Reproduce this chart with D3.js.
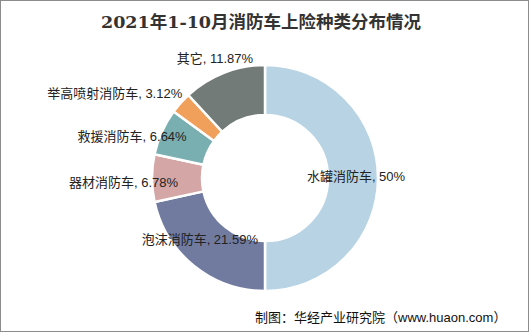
<!DOCTYPE html>
<html>
<head>
<meta charset="utf-8">
<script src="https://cdn.jsdelivr.net/npm/d3@7"></script>
<style>
  html, body { margin: 0; padding: 0; background: #fff; }
  svg { display: block; }
</style>
</head>
<body>
<svg id="chart" width="532" height="333"></svg>
<script>
// Fire-truck insurance categories, Jan–Oct 2021 (share, %)
const categories = ["水罐消防车", "泡沫消防车", "器材消防车", "救援消防车", "举高喷射消防车", "其它"];
const shares = [50, 21.59, 6.78, 6.64, 3.12, 11.87];
const colors = ["#b8d4e4", "#717ba0", "#d4a6a5", "#79afb0", "#f0a05b", "#737b78"];
// label placement relative to each slice centroid: [dx, dy, anchor]
const labelOffsets = [[3, 0, "middle"], [-10, -6, "middle"], [1, 5, "end"], [2, -5, "end"], [-17, -25, "end"], [-18, -37, "middle"]];

const titleText = "2021年1-10月消防车上险种类分布情况";
const sourceText = "制图：华经产业研究院（www.huaon.com）";

const W = 532, H = 333;
const svg = d3.select("#chart");

// frame
svg.append("rect")
  .attr("x", 0.5).attr("y", 0.5)
  .attr("width", W - 4).attr("height", H - 2)
  .attr("fill", "#fff").attr("stroke", "#8c8c8c").attr("stroke-width", 1);

svg.append("text")
  .attr("x", 261).attr("y", 28)
  .attr("text-anchor", "middle")
  .attr("font-family", "'DejaVu Serif', 'Noto Sans CJK SC', serif")
  .attr("font-weight", "bold")
  .attr("font-size", 17.5)
  .attr("fill", "#333")
  .text(titleText);

const cx = 265, cy = 178, rOuter = 113, rInner = 63;
const data = categories.map((c, i) => ({ name: c, value: shares[i], color: colors[i], off: labelOffsets[i] }));

const pie = d3.pie().value(d => d.value).sort(null);
const arc = d3.arc().innerRadius(rInner).outerRadius(rOuter);
const arcs = pie(data);

const g = svg.append("g").attr("transform", `translate(${cx},${cy})`);

g.selectAll("path.slice")
  .data(arcs)
  .join("path")
  .attr("class", "slice")
  .attr("d", arc)
  .attr("fill", d => d.data.color)
  .attr("stroke", "#fff")
  .attr("stroke-width", 2.5);

g.selectAll("text.lbl")
  .data(arcs)
  .join("text")
  .attr("class", "lbl")
  .attr("x", d => arc.centroid(d)[0] + d.data.off[0])
  .attr("y", d => arc.centroid(d)[1] + d.data.off[1])
  .attr("text-anchor", d => d.data.off[2])
  .attr("dominant-baseline", "middle")
  .attr("font-family", "'Liberation Sans', 'Noto Sans CJK SC', sans-serif")
  .attr("font-size", 13)
  .attr("fill", "#222")
  .text(d => `${d.data.name}, ${d.data.value}%`);

svg.append("text")
  .attr("x", 255).attr("y", 322)
  .attr("font-family", "'Liberation Sans', 'Noto Sans CJK SC', sans-serif")
  .attr("font-size", 13)
  .attr("fill", "#111")
  .text(sourceText);
</script>
</body>
</html>
